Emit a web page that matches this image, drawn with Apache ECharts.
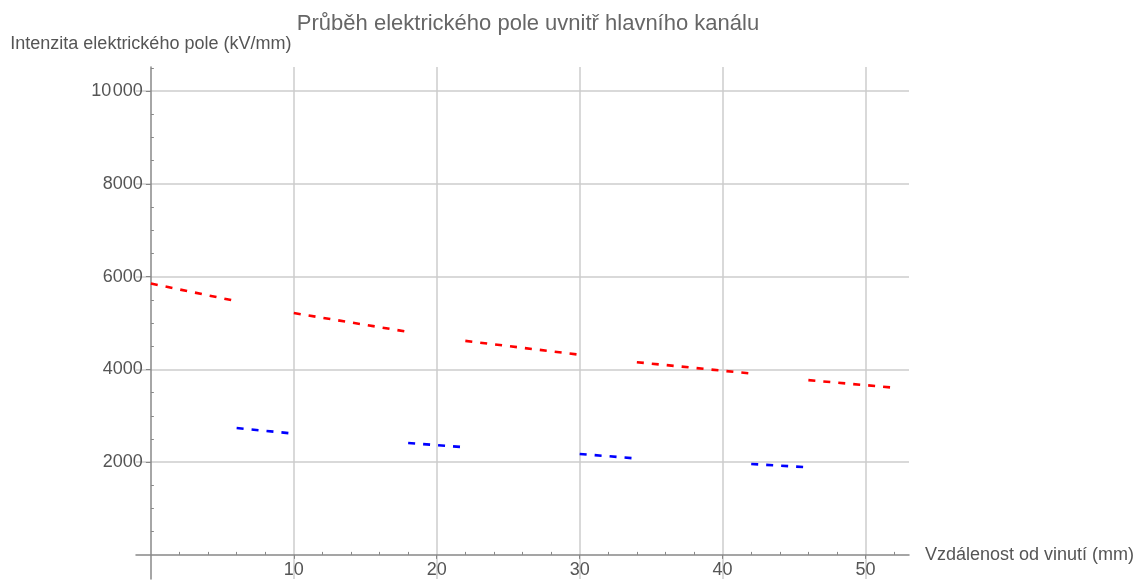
<!DOCTYPE html>
<html>
<head>
<meta charset="utf-8">
<script src="https://cdn.jsdelivr.net/npm/echarts@6/dist/echarts.min.js"></script>
<style>html,body{margin:0;padding:0;background:#fff}#chart{width:1143px;height:583px}</style>
</head>
<body>
<div id="chart"></div>
<script>
// red segments (inside winding gaps), blue segments (between)
var redStart = [0, 10, 22, 34, 46];
var redEnd = [6, 18, 30, 42, 52];
var redStartVal = [5850, 5215, 4615, 4155, 3768];
var redEndVal = [5470, 4808, 4315, 3910, 3605];

var blueStart = [6, 18, 30, 42];
var blueEnd = [10, 22, 34, 46];
var blueStartVal = [2735, 2412, 2177, 1960];
var blueEndVal = [2615, 2320, 2078, 1888];

var xTicks = [10, 20, 30, 40, 50];
var xMinor = [2, 4, 6, 8, 12, 14, 16, 18, 22, 24, 26, 28, 32, 34, 36, 38, 42, 44, 46, 48, 52];
var yTicks = [2000, 4000, 6000, 8000, 10000];
var yMinor = [500, 1000, 1500, 2500, 3000, 3500, 4500, 5000, 5500, 6500, 7000, 7500, 8500, 9000, 9500, 10500];

var xMin = -1.04, xMax = 53.04, yMin = -520, yMax = 10520;
var gl = 136, gr = 234, gt = 67, gb = 4, W = 1143, H = 583;
// axes sit on zero: shift them inward from the grid edge
var xOff = -((0 - yMin) / (yMax - yMin)) * (H - gt - gb);
var yOff = -((0 - xMin) / (xMax - xMin)) * (W - gl - gr);

var myChart = echarts.init(document.getElementById('chart'));
var txt = '#555';
var font = '"Liberation Sans", Arial, sans-serif';

function segSeries(xs, xe, ys, ye, color) {
    var out = [];
    for (var i = 0; i < xs.length; i++) {
        out.push({
            type: 'line',
            data: [[xs[i], ys[i]], [xe[i], ye[i]]],
            showSymbol: false,
            silent: true,
            lineStyle: {color: color, width: 2.6, type: [7, 8]}
        });
    }
    return out;
}

function yLabel(v) {
    var s = String(v);
    return v >= 10000 ? s.slice(0, -3) + '\u200a' + s.slice(-3) : s;
}

var option = {
    animation: false,
    textStyle: {fontFamily: font},
    title: {
        text: 'Průběh elektrického pole uvnitř hlavního kanálu',
        left: 523, top: 8, textAlign: 'center',
        textStyle: {color: '#666', fontSize: 22, fontWeight: 'normal', fontFamily: font}
    },
    grid: {left: gl, right: gr, top: gt, bottom: gb, outerBoundsMode: 'none'},
    xAxis: [{
        type: 'value', min: xMin, max: xMax, position: 'bottom', offset: xOff,
        name: 'Vzdálenost od vinutí (mm)', nameLocation: 'end', nameGap: 16,
        nameTextStyle: {color: txt, fontSize: 18, fontFamily: font},
        axisLine: {onZero: false, lineStyle: {color: '#888', width: 1.5}},
        axisTick: {customValues: xTicks, length: 4, lineStyle: {color: '#888'}},
        axisLabel: {customValues: xTicks, color: txt, fontSize: 18, margin: 6},
        splitLine: {show: true, lineStyle: {color: '#ccc', width: 1.5}}
    }, {
        type: 'value', min: xMin, max: xMax, position: 'bottom', offset: xOff,
        axisLine: {show: false, onZero: false},
        axisTick: {customValues: xMinor, inside: true, length: 3, lineStyle: {color: '#888'}},
        axisLabel: {show: false},
        splitLine: {show: false}
    }],
    yAxis: [{
        type: 'value', min: yMin, max: yMax, position: 'left', offset: yOff,
        name: 'Intenzita elektrického pole (kV/mm)', nameLocation: 'end', nameGap: 14,
        nameTextStyle: {color: txt, fontSize: 18, fontFamily: font},
        axisLine: {onZero: false, lineStyle: {color: '#888', width: 1.5}},
        axisTick: {customValues: yTicks, length: 5, lineStyle: {color: '#888'}},
        axisLabel: {customValues: yTicks, color: txt, fontSize: 18, margin: 8, formatter: yLabel},
        splitLine: {show: true, lineStyle: {color: '#ccc', width: 1.5}}
    }, {
        type: 'value', min: yMin, max: yMax, position: 'left', offset: yOff,
        axisLine: {show: false, onZero: false},
        axisTick: {customValues: yMinor, inside: true, length: 3, lineStyle: {color: '#888'}},
        axisLabel: {show: false},
        splitLine: {show: false}
    }],
    series: segSeries(redStart, redEnd, redStartVal, redEndVal, '#ff0000')
        .concat(segSeries(blueStart, blueEnd, blueStartVal, blueEndVal, '#0000ff'))
};

myChart.setOption(option);
</script>
</body>
</html>
